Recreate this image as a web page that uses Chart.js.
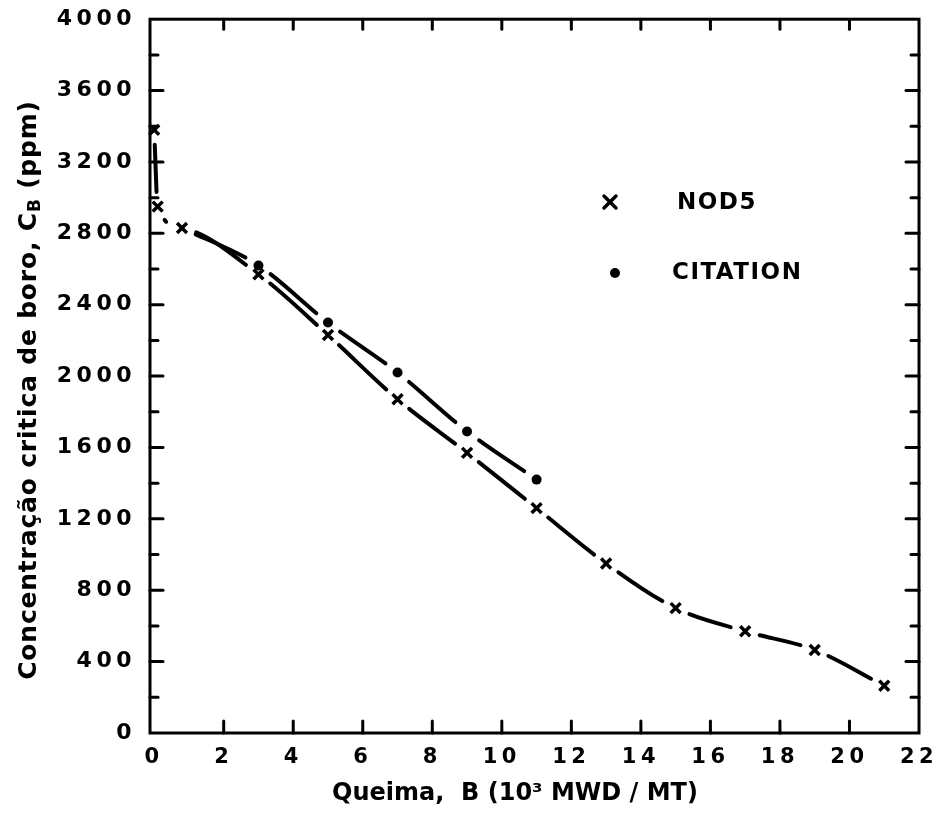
<!DOCTYPE html>
<html>
<head>
<meta charset="utf-8">
<script src="https://cdn.jsdelivr.net/npm/chart.js@4/dist/chart.umd.min.js"></script>
<style>
  html, body { margin: 0; padding: 0; background: #fff; }
  #wrap { width: 939px; height: 814px; }
</style>
</head>
<body>
<div id="wrap"><canvas id="c"></canvas></div>
<script>
// Burnup (10^3 MWD/MT) and critical boron concentration (ppm)
const nod5Burnup = [0, 0.1, 0.8, 3, 5, 7, 9, 11, 13, 15, 17, 19, 21];
const nod5Boron  = [3380, 2950, 2830, 2570, 2230, 1870, 1570, 1260, 950, 700, 570, 465, 265];
const citationBurnup = [0.8, 3, 5, 7, 9, 11];
const citationBoron  = [2830, 2620, 2300, 2020, 1690, 1420];
// first CITATION point shares the NOD5 mark, so only its curve is drawn there
const citationShown  = [false, true, true, true, true, true];

const xTickValues = [0, 2, 4, 6, 8, 10, 12, 14, 16, 18, 20, 22];
const yTickValues = [0, 400, 800, 1200, 1600, 2000, 2400, 2800, 3200, 3600, 4000];
const yMinorValues = [200, 600, 1000, 1400, 1800, 2200, 2600, 3000, 3400, 3800];

const seriesNames = ['NOD5', 'CITATION'];
const xTitle = 'Queima,  B (10\u00B3 MWD / MT)';
const yTitleMain = 'Concentração critica de boro, C';
const yTitleSub = 'B';
const yTitleTail = ' (ppm)';

const pts = (xs, ys, keep) => xs.map((v, i) => ({ x: v, y: ys[i] }))
                                .filter((p, i) => !keep || keep[i]);

const FONT = 'DejaVu Sans';
const INK = '#000';
const GAP = 15;     // distance from a mark's centre to where the curve resumes
const TAIL = 20;    // extra blank so a curved segment never runs into the next mark

// each segment between two marks is one dash, with a gap at both ends
const segLen = c => Math.hypot(c.p1.x - c.p0.x, c.p1.y - c.p0.y);
const dashOf = c => Math.max(segLen(c) - 2 * GAP, 1);
const curve = (data) => ({
  data, showLine: true, borderColor: INK, borderWidth: 4, borderCapStyle: 'round',
  cubicInterpolationMode: 'monotone', pointRadius: 0, clip: false, order: 5,
  segment: {
    borderDash: c => [dashOf(c), 2 * GAP + TAIL],
    borderDashOffset: c => dashOf(c) + GAP + TAIL
  }
});

const decorations = {
  id: 'decorations',
  beforeDraw(chart) { chart.ctx.letterSpacing = '4.5px'; },
  beforeDatasetsDraw(chart) { chart.ctx.letterSpacing = '0px'; },
  afterDraw(chart) {
    const { ctx, chartArea: a, scales: { x, y } } = chart;
    ctx.save();
    ctx.letterSpacing = '0px';
    ctx.strokeStyle = INK; ctx.fillStyle = INK;
    ctx.lineWidth = 3; ctx.lineCap = 'round';
    const seg = (x1, y1, x2, y2) => { ctx.beginPath(); ctx.moveTo(x1, y1); ctx.lineTo(x2, y2); ctx.stroke(); };

    // frame
    ctx.strokeRect(a.left, a.top, a.right - a.left, a.bottom - a.top);

    // inward tick marks
    xTickValues.forEach(v => {
      if (v <= 0 || v >= 22) return;
      const px = x.getPixelForValue(v);
      seg(px, a.bottom, px, a.bottom - 12);
      seg(px, a.top, px, a.top + 10);
    });
    yTickValues.forEach(v => {
      if (v <= 0 || v >= 4000) return;
      const py = y.getPixelForValue(v);
      seg(a.left, py, a.left + 13, py);
      seg(a.right, py, a.right - 13, py);
    });
    yMinorValues.forEach(v => {
      const py = y.getPixelForValue(v);
      seg(a.left, py, a.left + 8, py);
      seg(a.right, py, a.right - 8, py);
    });

    // legend
    ctx.lineWidth = 3.5;
    seg(604, 196, 616, 208); seg(616, 196, 604, 208);
    ctx.beginPath(); ctx.arc(615, 273, 5, 0, Math.PI * 2); ctx.fill();
    ctx.font = 'bold 23px "' + FONT + '"';
    ctx.letterSpacing = '1.5px';
    ctx.textAlign = 'left'; ctx.textBaseline = 'middle';
    ctx.fillText(seriesNames[0], 677, 203);
    ctx.fillText(seriesNames[1], 672, 273);

    // x axis title
    ctx.font = 'bold 24px "' + FONT + '"';
    ctx.letterSpacing = '0px';
    ctx.textAlign = 'center';
    ctx.fillText(xTitle, 515, 794);

    // y axis title (rotated, with subscript)
    ctx.translate(29, 390);
    ctx.rotate(-Math.PI / 2);
    ctx.letterSpacing = '0.8px';
    const big = 'bold 25px "' + FONT + '"';
    const small = 'bold 17px "' + FONT + '"';
    ctx.font = big; const w1 = ctx.measureText(yTitleMain).width;
    const w3 = ctx.measureText(yTitleTail).width;
    ctx.font = small; const w2 = ctx.measureText(yTitleSub).width;
    let cx = -(w1 + w2 + w3) / 2;
    ctx.textAlign = 'left';
    ctx.font = big; ctx.fillText(yTitleMain, cx, 0); cx += w1;
    ctx.font = small; ctx.fillText(yTitleSub, cx, 7); cx += w2;
    ctx.font = big; ctx.fillText(yTitleTail, cx, 0);
    ctx.restore();
  }
};

new Chart(document.getElementById('c'), {
  type: 'scatter',
  data: {
    datasets: [
      { label: seriesNames[0], data: pts(nod5Burnup, nod5Boron), pointStyle: 'crossRot', pointRadius: 7,
        pointBorderWidth: 3.5, pointBorderColor: INK, showLine: false, clip: false, order: 1 },
      { label: seriesNames[1], data: pts(citationBurnup, citationBoron, citationShown), pointStyle: 'circle',
        pointRadius: 5, pointBorderWidth: 0, pointBackgroundColor: INK, showLine: false, clip: false, order: 1 },
      curve(pts(nod5Burnup, nod5Boron)),
      curve(pts(citationBurnup, citationBoron))
    ]
  },
  plugins: [decorations],
  options: {
    responsive: true, maintainAspectRatio: false, animation: false,
    devicePixelRatio: 1,
    layout: { padding: { top: 18, right: 20, left: 0, bottom: 0 } },
    plugins: { legend: { display: false }, tooltip: { enabled: false } },
    scales: {
      x: {
        type: 'linear', min: -0.12, max: 22,
        afterBuildTicks: s => { s.ticks = xTickValues.map(v => ({ value: v })); },
        afterFit: s => { s.height = 81; },
        grid: { display: false }, border: { display: false },
        ticks: { color: INK, padding: 4, maxRotation: 0, autoSkip: false,
                 callback: v => String(v),
                 font: { family: FONT, weight: 'bold', size: 21 } }
      },
      y: {
        type: 'linear', min: 0, max: 4000,
        afterBuildTicks: s => { s.ticks = yTickValues.map(v => ({ value: v })); },
        afterFit: s => { s.width = 150; },
        grid: { display: false }, border: { display: false },
        ticks: { color: INK, padding: 6, autoSkip: false,
                 callback: v => String(v),
                 font: { family: FONT, weight: 'bold', size: 22 } }
      }
    }
  }
});
</script>
</body>
</html>
